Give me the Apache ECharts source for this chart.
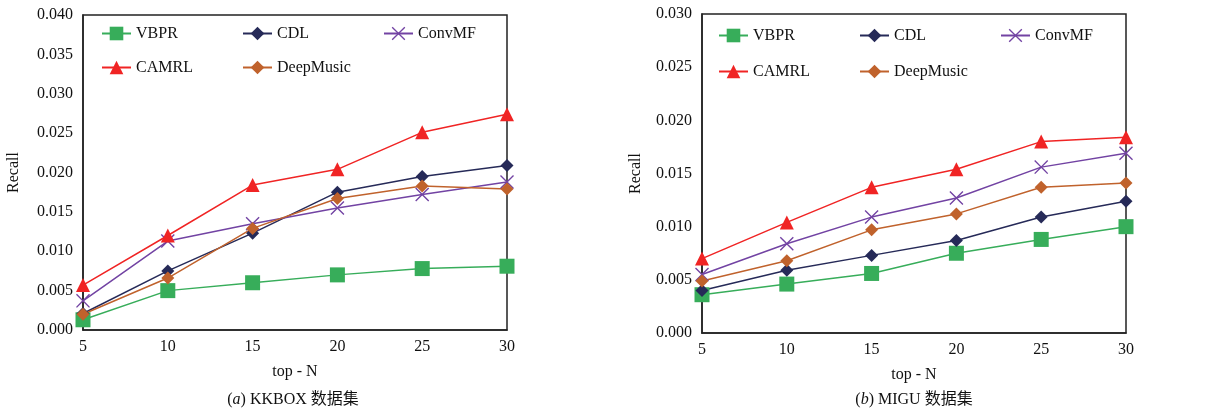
<!DOCTYPE html>
<html><head><meta charset="utf-8">
<script src="https://cdn.jsdelivr.net/npm/echarts@6/dist/echarts.min.js"></script>
<style>html,body{margin:0;padding:0;background:#fff}#c{width:1221px;height:414px}</style>
</head><body><div id="c"></div>
<script>
const topN = [5, 10, 15, 20, 25, 30];
const seriesNames = ['VBPR', 'CDL', 'ConvMF', 'CAMRL', 'DeepMusic'];
// KKBOX
const kkVBPR = [0.0013, 0.0050, 0.0060, 0.0070, 0.0078, 0.0081];
const kkCDL = [0.0021, 0.0075, 0.0123, 0.0175, 0.0195, 0.0209];
const kkConvMF = [0.0037, 0.0113, 0.0135, 0.0155, 0.0172, 0.0188];
const kkCAMRL = [0.0057, 0.0120, 0.0184, 0.0204, 0.0251, 0.0274];
const kkDeepMusic = [0.0020, 0.0066, 0.0129, 0.0167, 0.0183, 0.0179];
// MIGU
const mgVBPR = [0.0036, 0.0046, 0.0056, 0.0075, 0.0088, 0.0100];
const mgCDL = [0.0040, 0.0059, 0.0073, 0.0087, 0.0109, 0.0124];
const mgConvMF = [0.0055, 0.0084, 0.0109, 0.0127, 0.0156, 0.0169];
const mgCAMRL = [0.0070, 0.0104, 0.0137, 0.0154, 0.0180, 0.0184];
const mgDeepMusic = [0.0049, 0.0068, 0.0097, 0.0112, 0.0137, 0.0141];

const FONT = '"Liberation Serif", "Times New Roman", "Noto Sans CJK SC", serif';
const crossPath = 'path://M0,7 L7,0 L50,43 L93,0 L100,7 L57,50 L100,93 L93,100 L50,57 L7,100 L0,93 L43,50 Z';
const styles = {
  VBPR: {color: '#37ad5a', symbol: 'rect', size: 15},
  CDL: {color: '#262a58', symbol: 'diamond', size: 13},
  ConvMF: {color: '#7243a3', symbol: crossPath, size: 14},
  CAMRL: {color: '#f02424', symbol: 'triangle', size: 14},
  DeepMusic: {color: '#c0622c', symbol: 'diamond', size: 13}
};
const kkData = {VBPR: kkVBPR, CDL: kkCDL, ConvMF: kkConvMF, CAMRL: kkCAMRL, DeepMusic: kkDeepMusic};
const mgData = {VBPR: mgVBPR, CDL: mgCDL, ConvMF: mgConvMF, CAMRL: mgCAMRL, DeepMusic: mgDeepMusic};

function mkSeries(dataMap, idx) {
  return seriesNames.map(n => ({
    name: n, type: 'line', xAxisIndex: idx, yAxisIndex: idx,
    data: topN.map((x, i) => [x, dataMap[n][i]]),
    symbol: styles[n].symbol, symbolSize: styles[n].size,
    lineStyle: {color: styles[n].color, width: 1.5},
    itemStyle: {color: styles[n].color},
    animation: false, z: 3
  }));
}

function mkLegends(cols, rows) {
  const out = [];
  seriesNames.forEach((n, k) => {
    const col = k < 3 ? k : k - 3;
    const row = k < 3 ? 0 : 1;
    out.push({
      data: [n], left: cols[col], top: rows[row] - 8.5, padding: 0,
      itemWidth: 29, itemHeight: 17, itemGap: 4,
      selectedMode: false,
      textStyle: {fontFamily: FONT, fontSize: 16, color: '#111'}
    });
  });
  return out;
}

function xAx(idx) {
  return {
    type: 'value', gridIndex: idx, min: 5, max: 30, interval: 5,
    name: 'top - N', nameLocation: 'middle', nameGap: 34,
    nameTextStyle: {fontFamily: FONT, fontSize: 16, color: '#111'},
    axisLine: {show: true, lineStyle: {color: '#222', width: 1.5}},
    axisTick: {show: false}, splitLine: {show: false},
    axisLabel: {fontFamily: FONT, fontSize: 16, color: '#111', margin: 9}
  };
}
function yAx(idx, max, gap) {
  return {
    type: 'value', gridIndex: idx, min: 0, max: max, interval: 0.005,
    name: 'Recall', nameLocation: 'middle', nameGap: gap, nameRotate: 90,
    nameTextStyle: {fontFamily: FONT, fontSize: 16, color: '#111'},
    axisLine: {show: true, lineStyle: {color: '#222', width: 1.5}},
    axisTick: {show: false}, splitLine: {show: false},
    axisLabel: {fontFamily: FONT, fontSize: 16, color: '#111', margin: 10, formatter: v => v.toFixed(3)}
  };
}

const capRich = {i: {fontFamily: FONT, fontSize: 16, fontStyle: 'italic', fill: '#111', color: '#111'}};
const chart = echarts.init(document.getElementById('c'), null, {renderer: 'canvas'});
chart.setOption({
  backgroundColor: '#fff',
  animation: false,
  grid: [
    {left: 83, right: 714, top: 15, bottom: 84, show: true, borderColor: '#222', borderWidth: 1.5, backgroundColor: 'transparent'},
    {left: 702, right: 95, top: 14, bottom: 81, show: true, borderColor: '#222', borderWidth: 1.5, backgroundColor: 'transparent'}
  ],
  xAxis: [xAx(0), xAx(1)],
  yAxis: [yAx(0, 0.04, 61), yAx(1, 0.03, 58)],
  legend: mkLegends([101, 242, 383], [34, 68]).concat(mkLegends([718, 859, 1000], [36, 72])),
  series: mkSeries(kkData, 0).concat(mkSeries(mgData, 1)),
  graphic: [
    {type: 'text', x: 293, y: 400, style: {text: '({i|a}) KKBOX 数据集', rich: capRich, align: 'center', verticalAlign: 'middle', fontFamily: FONT, fontSize: 16, fill: '#111'}},
    {type: 'text', x: 914, y: 400, style: {text: '({i|b}) MIGU 数据集', rich: capRich, align: 'center', verticalAlign: 'middle', fontFamily: FONT, fontSize: 16, fill: '#111'}}
  ]
});
</script></body></html>
